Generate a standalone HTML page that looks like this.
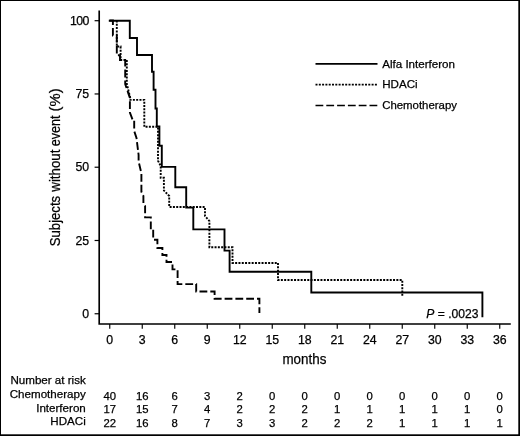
<!DOCTYPE html>
<html><head><meta charset="utf-8"><title>Kaplan-Meier</title>
<style>
html,body{margin:0;padding:0;background:#fff;}
body{width:520px;height:436px;overflow:hidden;}
svg{display:block;}
text{font-family:"Liberation Sans",Arial,Helvetica,sans-serif;fill:#000;stroke:#000;stroke-width:0.25px;}
.t{font-size:12.3px;}
.l{font-size:11.6px;}
.n{font-size:11.3px;}
</style></head><body>
<svg width="520" height="436" viewBox="0 0 520 436">
<rect x="0" y="0" width="520" height="436" fill="#fff"/>
<!-- frame -->
<rect x="0" y="0" width="520" height="1" fill="#000"/>
<rect x="0" y="0" width="1" height="436" fill="#000"/>
<rect x="518.3" y="0" width="1.7" height="436" fill="#000"/>
<rect x="0" y="434.3" width="520" height="1.7" fill="#000"/>

<g stroke="#000" stroke-width="1.65" fill="none" stroke-linecap="butt">
<path d="M99.2,10.5 V324 H510.8"/>
<path d="M94.6,20.70 H99.3" stroke-width="1.2"/>
<path d="M94.6,93.96 H99.3" stroke-width="1.2"/>
<path d="M94.6,167.22 H99.3" stroke-width="1.2"/>
<path d="M94.6,240.49 H99.3" stroke-width="1.2"/>
<path d="M94.6,313.75 H99.3" stroke-width="1.2"/>
<path d="M109.75,324 V328.8" stroke-width="1.15"/>
<path d="M142.25,324 V328.8" stroke-width="1.15"/>
<path d="M174.75,324 V328.8" stroke-width="1.15"/>
<path d="M207.25,324 V328.8" stroke-width="1.15"/>
<path d="M239.75,324 V328.8" stroke-width="1.15"/>
<path d="M272.25,324 V328.8" stroke-width="1.15"/>
<path d="M304.75,324 V328.8" stroke-width="1.15"/>
<path d="M337.25,324 V328.8" stroke-width="1.15"/>
<path d="M369.75,324 V328.8" stroke-width="1.15"/>
<path d="M402.25,324 V328.8" stroke-width="1.15"/>
<path d="M434.75,324 V328.8" stroke-width="1.15"/>
<path d="M467.25,324 V328.8" stroke-width="1.15"/>
<path d="M499.75,324 V328.8" stroke-width="1.15"/>
</g>
<text class="t" x="88.7" y="24.80" text-anchor="end" letter-spacing="-0.6">100</text>
<text class="t" x="89.1" y="98.06" text-anchor="end">75</text>
<text class="t" x="89.1" y="171.32" text-anchor="end">50</text>
<text class="t" x="89.1" y="244.59" text-anchor="end">25</text>
<text class="t" x="89.1" y="317.85" text-anchor="end">0</text>
<text class="t" x="109.75" y="344.1" text-anchor="middle">0</text>
<text class="t" x="142.25" y="344.1" text-anchor="middle">3</text>
<text class="t" x="174.75" y="344.1" text-anchor="middle">6</text>
<text class="t" x="207.25" y="344.1" text-anchor="middle">9</text>
<text class="t" x="239.75" y="344.1" text-anchor="middle">12</text>
<text class="t" x="272.25" y="344.1" text-anchor="middle">15</text>
<text class="t" x="304.75" y="344.1" text-anchor="middle">18</text>
<text class="t" x="337.25" y="344.1" text-anchor="middle">21</text>
<text class="t" x="369.75" y="344.1" text-anchor="middle">24</text>
<text class="t" x="402.25" y="344.1" text-anchor="middle">27</text>
<text class="t" x="434.75" y="344.1" text-anchor="middle">30</text>
<text class="t" x="467.25" y="344.1" text-anchor="middle">33</text>
<text class="t" x="499.75" y="344.1" text-anchor="middle">36</text>
<text x="304.4" y="364.3" text-anchor="middle" font-size="14.5" textLength="43.9" lengthAdjust="spacingAndGlyphs">months</text>
<text transform="translate(60.3,246.2) rotate(-90)" font-size="14.8" textLength="50.3" lengthAdjust="spacingAndGlyphs">Subjects</text>
<text transform="translate(60.3,191.7) rotate(-90)" font-size="14.8" textLength="42.1" lengthAdjust="spacingAndGlyphs">without</text>
<text transform="translate(60.3,146.3) rotate(-90)" font-size="14.8" textLength="30.9" lengthAdjust="spacingAndGlyphs">event</text>
<text transform="translate(60.3,111.4) rotate(-90)" font-size="14.8" textLength="23.0" lengthAdjust="spacingAndGlyphs">(%)</text>
<path d="M116.8,20.5 V46.5 H120.6 V60 H126.8 V84 L130.3,98 V99.9 H144.3 V126.8 H158 V160.7 L160.7,166 V177.8 H163.9 V190.4 L169.2,196 V207 H205 V216 L209.4,221 V247.3 H232.5 V263 H278 V280 H402.3 V296.5" fill="none" stroke="#000" stroke-width="1.9" stroke-dasharray="2 1.3"/>
<path d="M109.5,20.5 H112.9 V35.6 H116.8 V55.3 H120 V60 H125.2 V84 L129.9,98 V112.6 L132.7,120 H134.2 V131 L136.5,138 L138.6,155 V161.4 L141.4,173.4 V191.7 L143.4,196 V203 L145.1,206 V217.4 H150.8 V229.3 H153.2 V239.8 H157.4 V248 H162.4 V255 H166.5 V262 H172.5 V269.4 H177.6 V284.1 H196.2 V291.5 H214.6 V298.8 H259.4 V313" fill="none" stroke="#000" stroke-width="1.9" stroke-dasharray="7.8 3"/>
<path d="M108.8,20.8 H129.8 V38 H137 V55 H152 V71.8 H153.6 V89.7 H155.5 V108.5 H156.8 V126.4 H159.4 V145.8 H161.8 V166.9 H175.3 V187.2 H186.2 V207.6 H193.3 V229.4 H224.5 V250.6 H229.6 V271.8 H311.3 V292.5 H482.4 V317.3" fill="none" stroke="#000" stroke-width="1.9" stroke-linejoin="miter"/>
<g stroke="#000" stroke-width="1.7" fill="none">
<path d="M315.5,63.8 H377.5"/>
<path d="M315.5,84.6 H377.5" stroke-dasharray="2 1.3"/>
<path d="M315.5,105.5 H377.5" stroke-dasharray="7.8 3"/>
</g>
<text class="l" x="382.2" y="67.7">Alfa Interferon</text>
<text class="l" x="382.2" y="88.4">HDACi</text>
<text class="l" x="382.2" y="108.9" textLength="74.8" lengthAdjust="spacingAndGlyphs">Chemotherapy</text>
<text class="t" x="426.3" y="317.5" style="font-size:12.1px"><tspan font-style="italic">P</tspan> = .0023</text>
<text class="l" x="85.8" y="384.3" text-anchor="end">Number at risk</text>
<text class="l" x="85.8" y="398" text-anchor="end">Chemotherapy</text>
<text class="l" x="85.8" y="411.8" text-anchor="end">Interferon</text>
<text class="l" x="85.8" y="425" text-anchor="end">HDACi</text>
<text class="n" x="109.75" y="399.6" text-anchor="middle">40</text>
<text class="n" x="142.25" y="399.6" text-anchor="middle">16</text>
<text class="n" x="174.75" y="399.6" text-anchor="middle">6</text>
<text class="n" x="207.25" y="399.6" text-anchor="middle">3</text>
<text class="n" x="239.75" y="399.6" text-anchor="middle">2</text>
<text class="n" x="272.25" y="399.6" text-anchor="middle">0</text>
<text class="n" x="304.75" y="399.6" text-anchor="middle">0</text>
<text class="n" x="337.25" y="399.6" text-anchor="middle">0</text>
<text class="n" x="369.75" y="399.6" text-anchor="middle">0</text>
<text class="n" x="402.25" y="399.6" text-anchor="middle">0</text>
<text class="n" x="434.75" y="399.6" text-anchor="middle">0</text>
<text class="n" x="467.25" y="399.6" text-anchor="middle">0</text>
<text class="n" x="499.75" y="399.6" text-anchor="middle">0</text>
<text class="n" x="109.75" y="413.3" text-anchor="middle">17</text>
<text class="n" x="142.25" y="413.3" text-anchor="middle">15</text>
<text class="n" x="174.75" y="413.3" text-anchor="middle">7</text>
<text class="n" x="207.25" y="413.3" text-anchor="middle">4</text>
<text class="n" x="239.75" y="413.3" text-anchor="middle">2</text>
<text class="n" x="272.25" y="413.3" text-anchor="middle">2</text>
<text class="n" x="304.75" y="413.3" text-anchor="middle">2</text>
<text class="n" x="337.25" y="413.3" text-anchor="middle">1</text>
<text class="n" x="369.75" y="413.3" text-anchor="middle">1</text>
<text class="n" x="402.25" y="413.3" text-anchor="middle">1</text>
<text class="n" x="434.75" y="413.3" text-anchor="middle">1</text>
<text class="n" x="467.25" y="413.3" text-anchor="middle">1</text>
<text class="n" x="499.75" y="413.3" text-anchor="middle">0</text>
<text class="n" x="109.75" y="427" text-anchor="middle">22</text>
<text class="n" x="142.25" y="427" text-anchor="middle">16</text>
<text class="n" x="174.75" y="427" text-anchor="middle">8</text>
<text class="n" x="207.25" y="427" text-anchor="middle">7</text>
<text class="n" x="239.75" y="427" text-anchor="middle">3</text>
<text class="n" x="272.25" y="427" text-anchor="middle">3</text>
<text class="n" x="304.75" y="427" text-anchor="middle">2</text>
<text class="n" x="337.25" y="427" text-anchor="middle">2</text>
<text class="n" x="369.75" y="427" text-anchor="middle">2</text>
<text class="n" x="402.25" y="427" text-anchor="middle">1</text>
<text class="n" x="434.75" y="427" text-anchor="middle">1</text>
<text class="n" x="467.25" y="427" text-anchor="middle">1</text>
<text class="n" x="499.75" y="427" text-anchor="middle">1</text>
</svg></body></html>
